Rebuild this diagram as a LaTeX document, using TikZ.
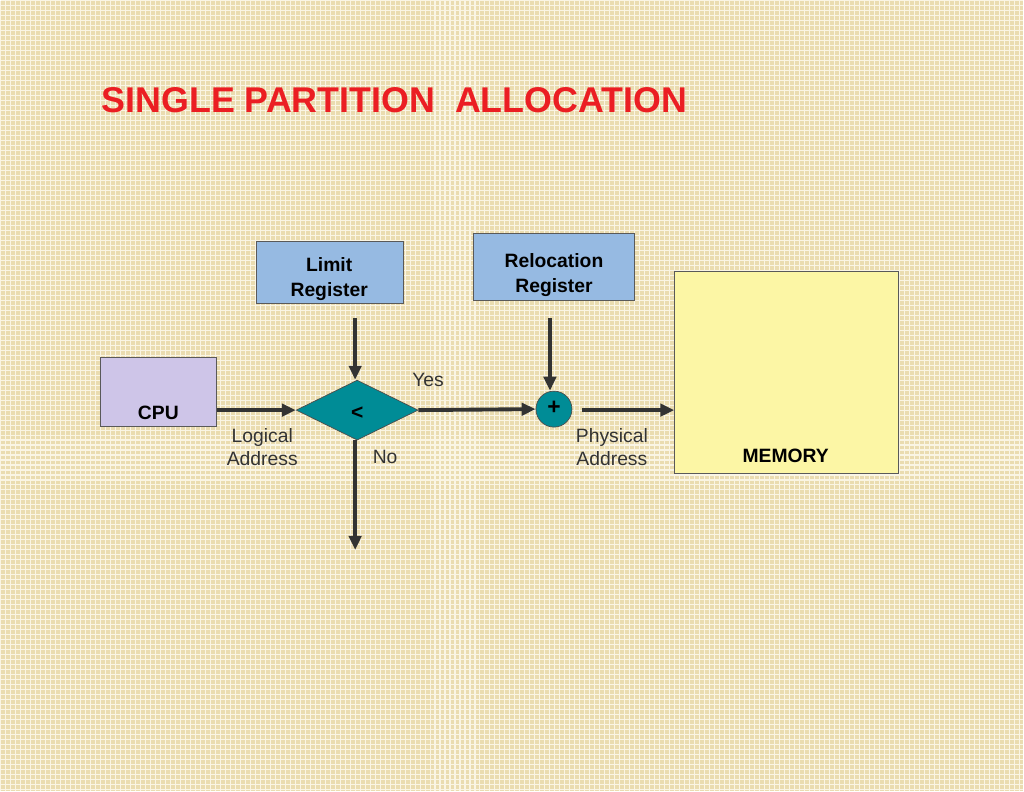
\documentclass[tikz,border=0pt]{standalone}
\usepackage{fontspec}
\setmainfont{Liberation Sans}
\usetikzlibrary{shapes.geometric,arrows.meta}
\definecolor{paper}{RGB}{234,220,176}
\definecolor{gridln}{RGB}{250,245,228}
\definecolor{regblue}{RGB}{150,186,226}
\definecolor{cpulilac}{RGB}{206,197,232}
\definecolor{memyellow}{RGB}{252,246,165}
\definecolor{opteal}{RGB}{0,140,150}
\definecolor{titlered}{RGB}{235,30,35}
\tikzset{
  box/.style={draw=gray!70!black,line width=0.6pt,font=\bfseries\fontsize{11}{14}\selectfont,align=center,inner sep=0pt},
  link/.style={draw=black!80,line width=2.2pt,-{Triangle[length=8pt,width=7pt]}},
  note/.style={font=\fontsize{11}{13.5}\selectfont,text=black!80,align=center},
}
\begin{document}
\begin{tikzpicture}[x=0.02cm,y=-0.02cm]
\fill[paper] (0,0) rectangle (1024,791);
\draw[gridln,line width=0.6pt,step=0.1cm] (0,0) grid (1024,791);
\node[font=\bfseries\fontsize{20.4}{24}\selectfont,text=titlered,anchor=west] (title) at (95,100) {SINGLE PARTITION\ \ ALLOCATION};
\node[box,fill=regblue,minimum width=2.94cm,minimum height=1.24cm] (limit) at (329.5,272) {};
\node[font=\bfseries\fontsize{11}{14}\selectfont,align=center] (limittxt) at (329,279) {Limit\\Register};
\node[box,fill=regblue,minimum width=3.24cm,minimum height=1.34cm] (reloc) at (554,266.5) {};
\node[font=\bfseries\fontsize{11}{14}\selectfont,align=center] (reloctxt) at (554,275) {Relocation\\Register};
\node[box,fill=cpulilac,minimum width=2.32cm,minimum height=1.38cm] (cpu) at (158,391.5) {};
\node[font=\bfseries\fontsize{11}{13}\selectfont] (cputxt) at (158,413) {CPU};
\node[box,fill=memyellow,minimum width=4.48cm,minimum height=4.04cm] (mem) at (787,372) {};
\node[font=\bfseries\fontsize{11}{13}\selectfont] (memtxt) at (786,456) {MEMORY};
\node[diamond,draw=gray!60!black,fill=opteal,minimum width=2.44cm,minimum height=1.2cm,inner sep=0pt,aspect=2] (cmp) at (357,410) {};
\node[font=\bfseries\fontsize{12}{14}\selectfont] (lt) at (357,413) {<};
\node[circle,draw=gray!60!black,fill=opteal,minimum size=0.72cm,inner sep=0pt] (add) at (554,409) {};
\node[font=\bfseries\fontsize{13}{14}\selectfont] (plus) at (554,408) {+};
\coordinate (limitout) at (355,318);
\coordinate (relocout) at (550,318);
\coordinate (addout) at (582,410);
\coordinate (nodown) at (355,550);
\draw[link] (cpu.east |- cmp) -- (cmp.west);
\draw[link] (limitout) -- (cmp.north -| limitout);
\draw[link] (cmp.east) -- (add.west);
\draw[link] (relocout) -- (add.north -| relocout);
\draw[link] (addout) -- (mem.west |- addout);
\draw[link] (cmp.south -| nodown) -- (nodown);
\node[note] (yes) at (428,380) {Yes};
\node[note] (no) at (385,457) {No};
\node[note] (logical) at (262,447) {Logical\\Address};
\node[note] (physical) at (612,447) {Physical\\Address};
\end{tikzpicture}
\end{document}
